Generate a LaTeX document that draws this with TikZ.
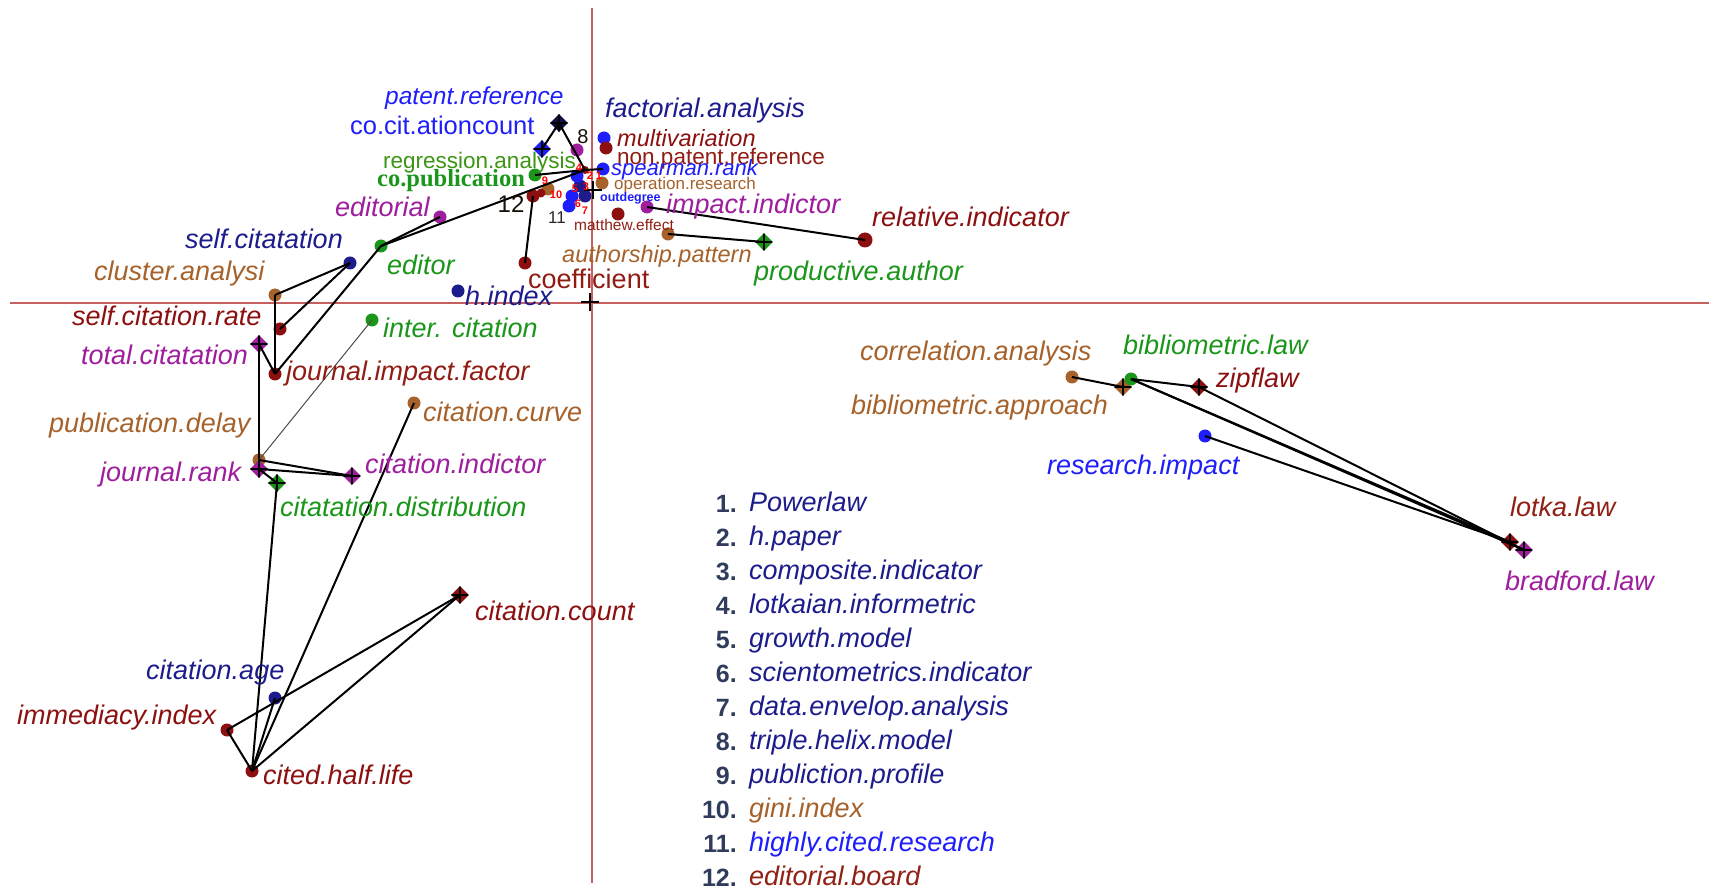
\documentclass[tikz,border=0pt]{standalone}
\usepackage{fontspec}
\setmainfont{Liberation Sans}
\newfontfamily\timesfont{Liberation Serif}
\usetikzlibrary{shapes.geometric}

\definecolor{dred}{RGB}{140,16,16}
\definecolor{brn}{RGB}{166,98,42}
\definecolor{grn}{RGB}{26,150,26}
\definecolor{olv}{RGB}{60,150,20}
\definecolor{prp}{RGB}{158,30,158}
\definecolor{blu}{RGB}{30,30,250}
\definecolor{nvy}{RGB}{28,28,140}
\definecolor{axisred}{RGB}{196,96,96}
\definecolor{numgray}{RGB}{48,60,92}
\definecolor{hubnavy}{RGB}{16,16,70}

\tikzset{
  dot/.style={circle, fill=#1, minimum size=13pt, inner sep=0pt},
  dia/.style={diamond, fill=#1, minimum size=18pt, inner sep=0pt,
    path picture={\draw[black, line width=1.2pt]
      (path picture bounding box.north) -- (path picture bounding box.south)
      (path picture bounding box.west) -- (path picture bounding box.east);}},
  % text boxes get a fixed height and no depth, so that every label
  % sits on its baseline the same way whether or not it has descenders
  ht/.style={text height=#1, text depth=0pt},
  lab/.style={anchor=west, inner sep=0pt, text=#1, ht=19.7pt,
    font=\fontsize{27}{28}\selectfont\itshape},
  labup/.style={anchor=west, inner sep=0pt, text=#1},
  tiny/.style={inner sep=0pt, text=red, font=\fontsize{11}{11}\selectfont\bfseries},
  ln/.style={black, line width=2pt},
  thin/.style={black!70, line width=1pt},
  axis/.style={axisred, line width=2.5pt},
  num/.style={anchor=east, inner sep=0pt, text=numgray, ht=18pt,
    font=\fontsize{25}{26}\selectfont\bfseries},
  item/.style={anchor=west, inner sep=0pt, text=#1, ht=19.7pt,
    font=\fontsize{27}{28}\selectfont\itshape},
  crs/.style={black, line width=2.2pt}
}

\begin{document}
\begin{tikzpicture}[x=1pt, y=-1pt]
\useasboundingbox (0,0) rectangle (1709,890);
\fill[white] (0,0) rectangle (1709,890);

% axes
\coordinate (ytop) at (592,8);
\coordinate (ybot) at (592,883);
\coordinate (xl) at (10,303);
\coordinate (xr) at (1709,303);
\draw[axis] (ytop) -- (ybot);
\draw[axis] (xl) -- (xr);

% ---------- markers ----------
% upper cluster
\node[dia=hubnavy] (patent) at (559,123) {};
\node[dia=blu] (cocit) at (542,149) {};
\node[dot=blu] (factorial) at (604,138) {};
\node[dot=dred] (multivar) at (606,148) {};
\node[dot=prp] (helix) at (577,150) {};
\node[dot=grn] (copub) at (535,175) {};
\node[dot=blu] (spearman) at (603,169) {};
\node[dot=brn] (operation) at (602,183) {};
\node[dot=dred, minimum size=8pt] (hub) at (585,170) {};
\node[dot=nvy] (c1) at (580,186) {};
\node[dot=blu] (c2) at (572,196) {};
\node[dot=blu] (c3) at (569,206) {};
\node[dot=nvy] (c4) at (585,196) {};
\node[dot=blu] (c5) at (577,176) {};
\node[dot=dred] (board) at (533,196) {};
\node[dot=brn] (gini) at (548,189) {};
\node[dot=dred, minimum size=9pt] (c6) at (541,193) {};
\node[dot=prp] (editorial) at (440,217) {};
\node[dot=prp] (impact) at (647,207) {};
\node[dot=dred] (matthew) at (618,214) {};
\node[dot=dred, minimum size=15pt] (relative) at (865,240) {};
\node[dot=brn] (authorship) at (668,234) {};
\node[dia=grn] (productive) at (764,242) {};
\node[dot=dred] (coefficient) at (525,263) {};
\node[dot=grn] (editor) at (381,246) {};
\node[dot=nvy] (hindex) at (458,291) {};

% left group
\node[dot=nvy] (selfcit) at (350,263) {};
\node[dot=brn] (cluster) at (275,295) {};
\node[dot=dred] (selfrate) at (280,329) {};
\node[dot=grn] (inter) at (372,320) {};
\node[dia=prp] (total) at (259,344) {};
\node[dot=dred] (jif) at (275,374) {};
\node[dot=brn] (curve) at (414,403) {};
\node[dot=brn] (delay) at (259,460) {};
\node[dia=prp] (jrank) at (259,469) {};
\node[dia=prp] (citind) at (352,476) {};
\node[dia=grn] (citdist) at (277,483) {};
\node[dia=dred] (citcount) at (460,595) {};
\node[dot=nvy] (citage) at (275,698) {};
\node[dot=dred] (immediacy) at (227,730) {};
\node[dot=dred] (halflife) at (252,771) {};

% right group
\node[dot=brn] (correl) at (1072,377) {};
\node[dia=brn] (bibapp) at (1123,387) {};
\node[dot=grn] (biblaw) at (1131,379) {};
\node[dia=dred] (zipf) at (1199,387) {};
\node[dot=blu] (resimp) at (1205,436) {};
\node[dia=dred] (lotka) at (1510,542) {};
\node[dia=prp] (bradford) at (1524,550) {};

% ---------- connectors ----------
\draw[ln] (patent.center) -- (cocit.center);
\draw[ln] (patent.center) -- (hub.center);
\draw[ln] (hub.center) -- (spearman.center);
\draw[ln] (copub.center) -- (hub.center);
\draw[ln] (coefficient.center) -- (board.center);
\draw[ln] (editor.center) -- (editorial.center);
\draw[ln] (editor.center) -- (hub.center);
\draw[ln] (impact.center) -- (relative.center);
\draw[ln] (authorship.center) -- (productive.center);

\draw[ln] (selfcit.center) -- (cluster.center);
\draw[ln] (selfcit.center) -- (selfrate.center);
\draw[ln] (cluster.center) -- (jif.center);
\draw[ln] (total.center) -- (jif.center);
\draw[ln] (editor.center) -- (jif.center);
\draw[ln] (total.center) -- (delay.center);
\draw[thin] (inter.center) -- (delay.center);
\draw[ln] (delay.center) -- (citind.center);
\draw[ln] (jrank.center) -- (citind.center);
\draw[ln] (jrank.center) -- (citdist.center);
\draw[ln] (citdist.center) -- (halflife.center);
\draw[ln] (curve.center) -- (halflife.center);
\draw[ln] (citage.center) -- (halflife.center);
\draw[ln] (immediacy.center) -- (halflife.center);
\draw[ln] (immediacy.center) -- (citcount.center);
\draw[ln] (halflife.center) -- (citcount.center);

\draw[ln] (correl.center) -- (bibapp.center);
\draw[ln] (biblaw.center) -- (zipf.center);
\draw[ln] (biblaw.center) -- (lotka.center);
\draw[ln] (biblaw.center) -- (bradford.center);
\draw[ln] (zipf.center) -- (bradford.center);
\draw[ln] (resimp.center) -- (lotka.center);

% crosses at the origin and in the cluster
\node[inner sep=0pt, minimum size=0pt] (origin) at (590,302) {};
\draw[crs] ([xshift=-9pt]origin.center) -- ([xshift=9pt]origin.center);
\draw[crs] ([yshift=-9pt]origin.center) -- ([yshift=9pt]origin.center);
\node[inner sep=0pt, minimum size=0pt] (hubcross) at (593,190) {};
\draw[crs] ([xshift=-9pt]hubcross.center) -- ([xshift=9pt]hubcross.center);
\draw[crs] ([yshift=-9pt]hubcross.center) -- ([yshift=9pt]hubcross.center);

% ---------- labels ----------
\node[lab=blu, ht=18pt, font=\fontsize{24.5}{25}\selectfont\itshape] (lpatent) at (385,96) {patent.reference};
\node[labup=blu, ht=18.7pt, font=\fontsize{25.5}{26}\selectfont] (lcocit) at (350,125) {co.cit.ationcount};
\node[lab=nvy] (lfactorial) at (605,108) {factorial.analysis};
\node[lab=dred, ht=17.2pt, font=\fontsize{23.5}{24}\selectfont\itshape] (lmultivar) at (617,138) {multivariation};
\node[labup=dred!85!brn, ht=16.4pt, font=\fontsize{22.5}{23}\selectfont] (lnonpat) at (617,156) {non.patent.reference};
\node[labup=olv, ht=16.4pt, font=\fontsize{22.5}{23}\selectfont] (lregress) at (383,160) {regression.analysis};
\node[labup=grn, ht=16.5pt, font=\timesfont\fontsize{24.5}{25}\selectfont\bfseries] (lcopub) at (377,178) {co.publication};
\node[lab=blu, ht=16pt, font=\fontsize{22}{23}\selectfont\itshape] (lspearman) at (611,168) {spearman.rank};
\node[labup=brn, ht=12.4pt, font=\fontsize{17}{18}\selectfont] (loperation) at (614,183) {operation.research};
\node[labup=blu, ht=9.1pt, font=\fontsize{12.5}{13}\selectfont\bfseries] (loutdeg) at (600,197) {outdegree};
\node[labup=dred!80!brn, ht=11.3pt, font=\fontsize{15.5}{16}\selectfont] (lmatthew) at (574,225) {matthew.effect};
\node[lab=prp] (leditorial) at (335,207) {editorial};
\node[lab=prp] (limpact) at (666,204) {impact.indictor};
\node[lab=dred] (lrelative) at (872,217) {relative.indicator};
\node[lab=nvy] (lselfcit) at (185,239) {self.citatation};
\node[lab=grn] (leditor) at (387,265) {editor};
\node[lab=brn, ht=17.2pt, font=\fontsize{23.5}{24}\selectfont\itshape] (lauthor) at (562,254) {authorship.pattern};
\node[lab=grn] (lproductive) at (754,271) {productive.author};
\node[lab=brn] (lcluster) at (94,271) {cluster.analysi};
\node[labup=dred!85!brn, ht=19.7pt, font=\fontsize{27}{28}\selectfont] (lcoeff) at (528,279) {coefficient};
\node[lab=nvy] (lhindex) at (465,296) {h.index};
\node[lab=dred] (lselfrate) at (72,316) {self.citation.rate};
\node[lab=grn] (linter) at (383,328) {inter. citation};
\node[lab=prp] (ltotal) at (81,355) {total.citatation};
\node[lab=dred!85!brn] (ljif) at (286,371) {journal.impact.factor};
\node[lab=brn] (lcurve) at (423,412) {citation.curve};
\node[lab=brn] (ldelay) at (49,423) {publication.delay};
\node[lab=prp] (ljrank) at (100,472) {journal.rank};
\node[lab=prp] (lcitind) at (365,464) {citation.indictor};
\node[lab=grn] (lcitdist) at (280,507) {citatation.distribution};
\node[lab=dred] (lcitcount) at (475,611) {citation.count};
\node[lab=nvy] (lcitage) at (146,670) {citation.age};
\node[lab=dred] (limmediacy) at (17,715) {immediacy.index};
\node[lab=dred] (lhalflife) at (263,775) {cited.half.life};

\node[lab=brn] (lcorrel) at (860,351) {correlation.analysis};
\node[lab=grn] (lbiblaw) at (1123,345) {bibliometric.law};
\node[lab=dred] (lzipf) at (1216,378) {zipflaw};
\node[lab=brn] (lbibapp) at (851,405) {bibliometric.approach};
\node[lab=blu] (lresimp) at (1047,465) {research.impact};
\node[lab=dred!80!brn] (llotka) at (1510,507) {lotka.law};
\node[lab=prp] (lbradford) at (1505,581) {bradford.law};

% numbered points in the cluster
\node[inner sep=0pt, text=black!85!brn, font=\fontsize{20}{20}\selectfont] (n8) at (583,137) {8};
\node[inner sep=0pt, text=black!85!brn, font=\fontsize{24}{24}\selectfont] (n12) at (511,204) {12};
\node[inner sep=0pt, text=black!85, font=\fontsize{17}{17}\selectfont] (n11) at (557,218) {11};
\node[tiny] (r1) at (599,176) {1};
\node[tiny] (r2) at (590,176) {2};
\node[tiny] (r3) at (586,187) {3};
\node[tiny] (r4) at (579,168) {4};
\node[tiny] (r5) at (575,189) {5};
\node[tiny] (r6) at (578,204) {6};
\node[tiny] (r7) at (585,211) {7};
\node[tiny] (r9) at (545,181) {9};
\node[tiny] (r10) at (556,195) {10};

% ---------- legend ----------
\foreach \n/\txt/\c [count=\i from 0] in {
  1./Powerlaw/nvy, 2./h.paper/nvy, 3./composite.indicator/nvy,
  4./lotkaian.informetric/nvy, 5./growth.model/nvy,
  6./scientometrics.indicator/nvy, 7./data.envelop.analysis/nvy,
  8./triple.helix.model/nvy, 9./publiction.profile/nvy,
  10./gini.index/brn, 11./highly.cited.research/blu, 12./editorial.board/dred!80!brn} {
  \node[num] (num\i) at (737,{503+34*\i}) {\n};
  \node[item=\c] (item\i) at (749,{502+34*\i}) {\txt};
}
\end{tikzpicture}
\end{document}
